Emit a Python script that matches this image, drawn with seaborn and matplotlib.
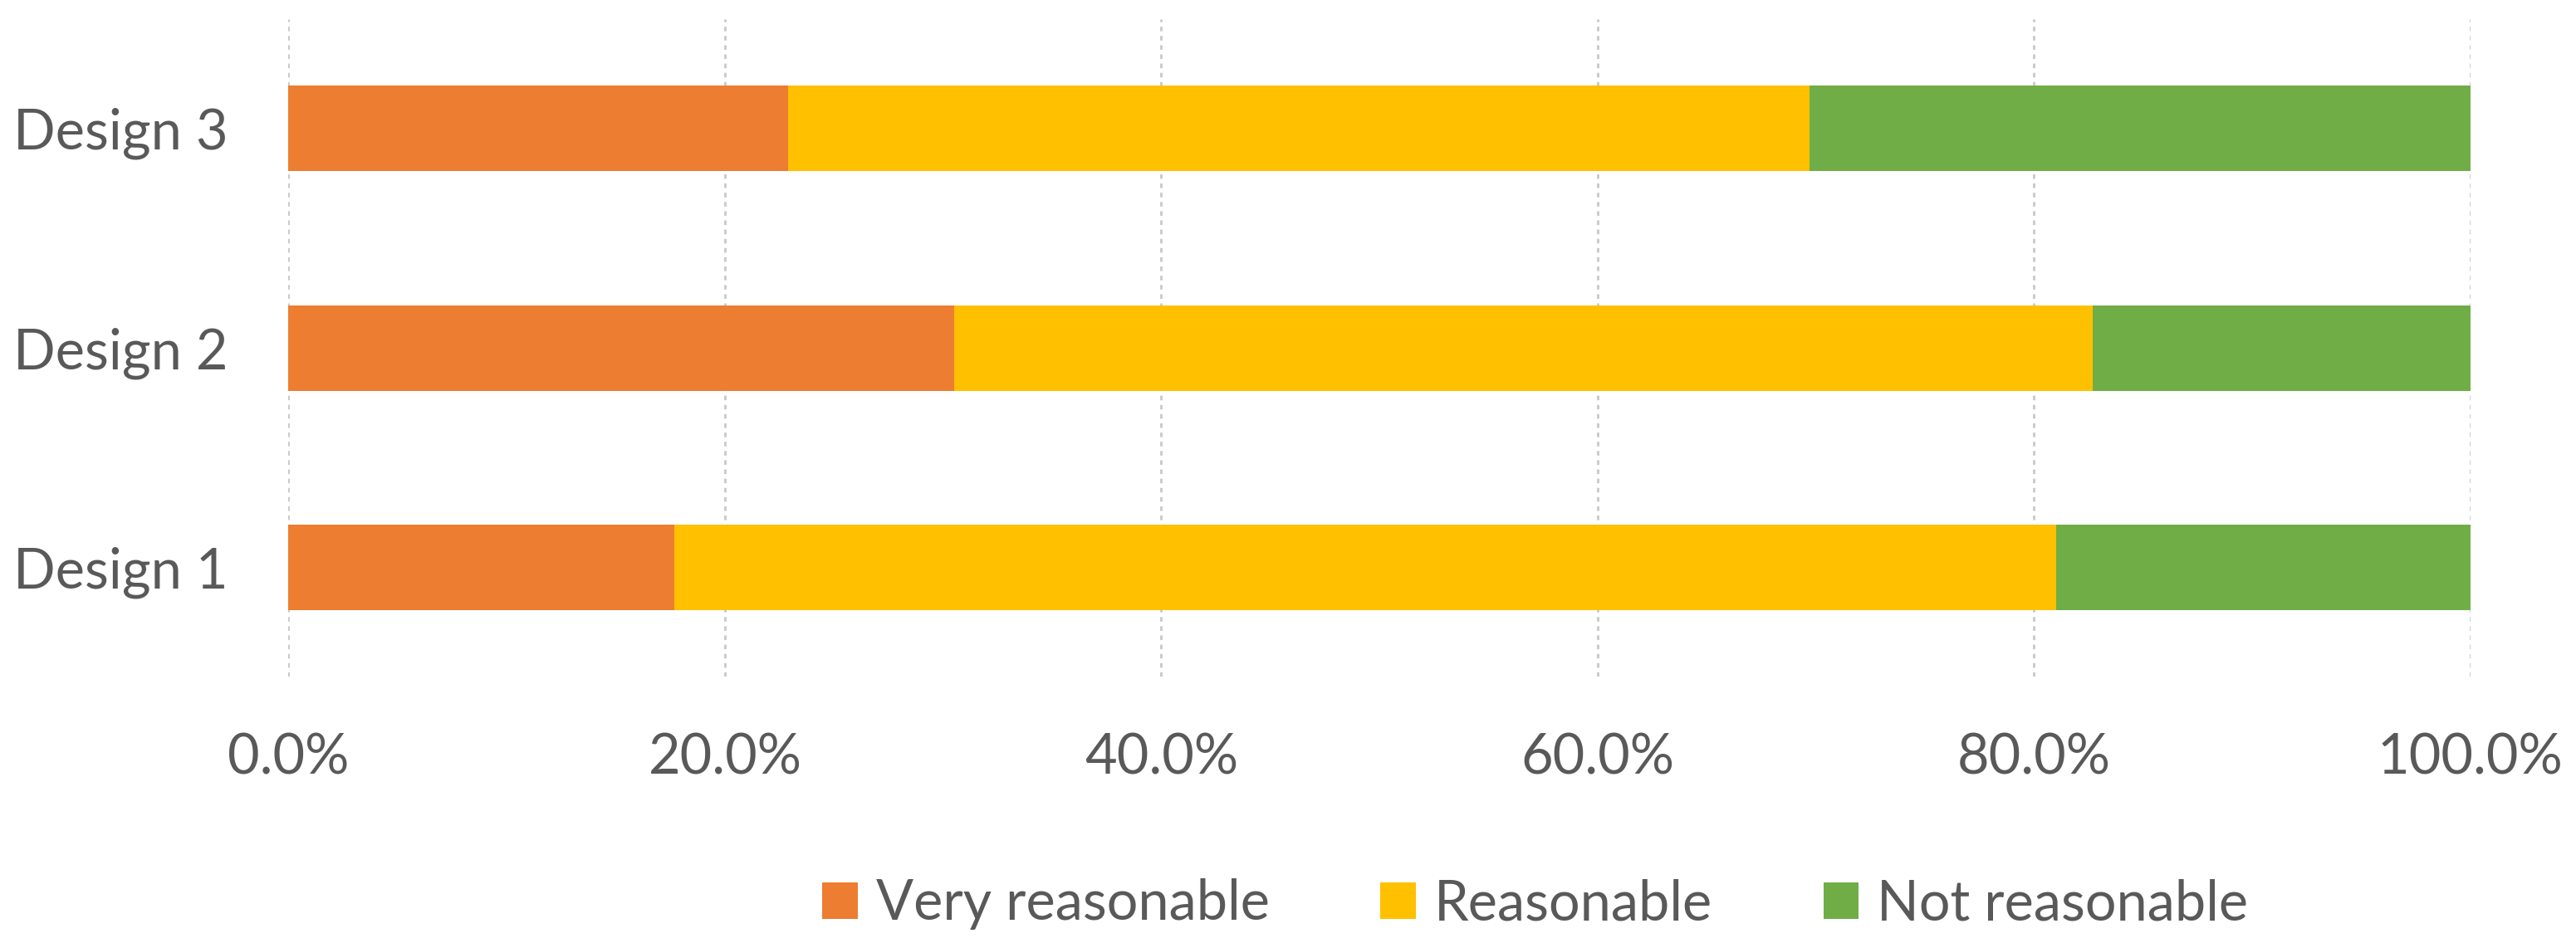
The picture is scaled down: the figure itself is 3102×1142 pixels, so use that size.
import numpy as np
import pandas as pd
import matplotlib
matplotlib.use("Agg")
import matplotlib.pyplot as plt
from matplotlib.patches import Patch
from matplotlib.ticker import PercentFormatter
import seaborn as sns

# ---- data (percent of responses) ----
designs = ["Design 1", "Design 2", "Design 3"]
very_reasonable = [17.7, 30.5, 22.9]
reasonable = [63.3, 52.2, 46.8]
not_reasonable = [19.0, 17.3, 30.3]

series_names = ["Very reasonable", "Reasonable", "Not reasonable"]
colors = ["#ED7D31", "#FFC000", "#70AD47"]
x_ticks = [0, 20, 40, 60, 80, 100]

# cumulative ends for stacking
df = pd.DataFrame({"design": designs,
                   "very": very_reasonable,
                   "reas": reasonable,
                   "notr": not_reasonable})
df["end1"] = df["very"]
df["end2"] = df["very"] + df["reas"]
df["end3"] = df["end2"] + df["notr"]

sns.set_style("white")
plt.rcParams["font.family"] = ["Lato", "DejaVu Sans"]
text_color = "#595959"
fs = 48

fig = plt.figure(figsize=(31.02, 11.42), dpi=100)
ax = fig.add_axes([0.112, 0.286, 0.847, 0.694])

order = ["Design 3", "Design 2", "Design 1"]
# draw longest first so shorter segments sit on top
for col, c in zip(["end3", "end2", "end1"], colors[::-1]):
    sns.barplot(data=df, x=col, y="design", order=order, orient="h",
                color=c, width=0.39, linewidth=0, saturation=1, ax=ax)

ax.set_xlim(0, 100)
ax.set_ylim(2.5, -0.5)
ax.set_xticks(x_ticks)
ax.xaxis.set_major_formatter(PercentFormatter(xmax=100, decimals=1))
ax.set_xlabel("")
ax.set_ylabel("")
ax.grid(axis="x", color="#c8c8c8", linestyle=(0, (2, 2)), linewidth=2)
ax.set_axisbelow(True)
for s in ax.spines.values():
    s.set_visible(False)
ax.tick_params(axis="x", length=0, pad=48, labelsize=fs, labelcolor=text_color)
ax.tick_params(axis="y", length=0, pad=0, labelsize=fs, labelcolor=text_color)
for lab in ax.get_yticklabels():
    lab.set_horizontalalignment("left")
    lab.set_x(-0.126)

handles = [Patch(facecolor=c, edgecolor="none", label=n) for c, n in zip(colors, series_names)]
fig.legend(handles=handles, loc="center", bbox_to_anchor=(0.596, 0.046), ncol=3,
           frameon=False, fontsize=fs, labelcolor=text_color,
           handlelength=0.64, handleheight=0.64, handletextpad=0.33, columnspacing=2.0)

fig.savefig("out.png", dpi=100)
